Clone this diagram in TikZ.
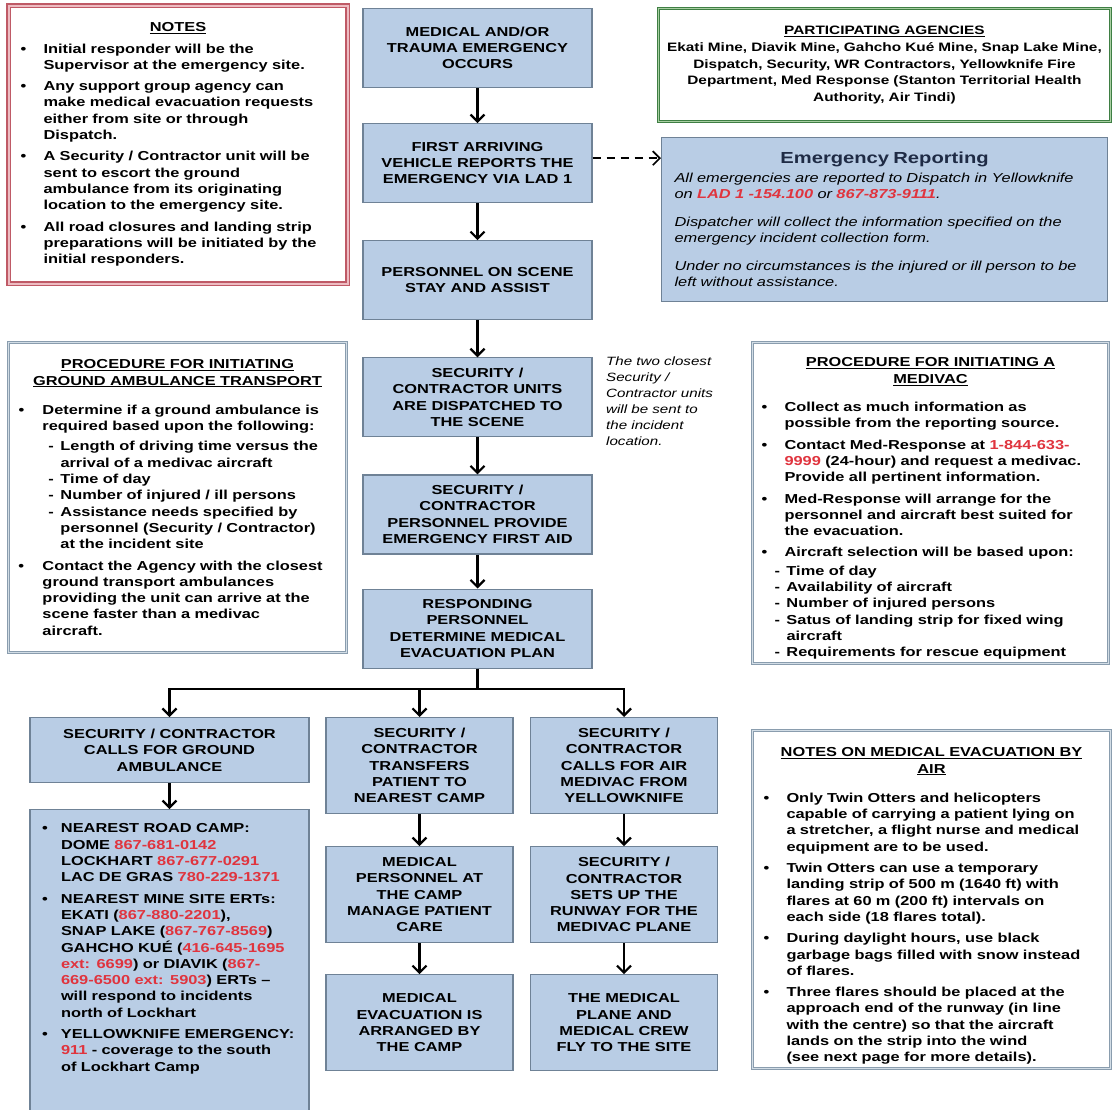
\documentclass[tikz,border=0pt]{standalone}
\usepackage{fontspec}
\setmainfont[FakeStretch=1.26]{Liberation Sans}
\usepackage{xcolor}
\usetikzlibrary{arrows.meta, positioning}

\definecolor{boxfill}{HTML}{B9CDE5}
\definecolor{boxline}{HTML}{6F8296}
\definecolor{notered}{HTML}{BF5A66}
\definecolor{notepink}{HTML}{EDBCC2}
\definecolor{agencygreen}{HTML}{3F7F44}
\definecolor{agencylight}{HTML}{A9CFA2}
\definecolor{panelgray}{HTML}{8A9DAE}
\definecolor{panellight}{HTML}{D2DDE6}
\definecolor{phone}{HTML}{E0343E}
\definecolor{titlenavy}{HTML}{1F2B45}

\newcommand{\flowfont}{\bfseries\fontsize{13}{16.3}\selectfont}
\newcommand{\agencyfont}{\bfseries\fontsize{12.2}{16.5}\selectfont}
\newcommand{\reportfont}{\mdseries\itshape\fontsize{13}{16}\selectfont}
\newcommand{\sidefont}{\mdseries\itshape\fontsize{12}{16}\selectfont}
\newcommand{\ph}[1]{\textcolor{phone}{#1}}
\newcommand{\heading}[1]{{\centering\underline{#1}\par}}
\newcommand{\pitem}[2][23pt]{\par\vspace{5pt}\noindent\hangindent=#1\hangafter=1\makebox[#1][l]{\textbullet}#2\par}
\newcommand{\psub}[2][23pt]{\par\noindent\hangindent=\dimexpr#1+15pt\relax\hangafter=1\hspace*{\dimexpr#1+3pt\relax}\makebox[12pt][l]{-}#2\par}

\begin{document}
\begin{tikzpicture}[x=1pt, y=-1pt, node distance=36pt]
        \tikzstyle{flow} = [rectangle, draw=boxline, line width=1.1pt, fill=boxfill, align=center, font=\flowfont, inner sep=2pt]
        \tikzstyle{mainbox} = [flow, minimum width=229pt, minimum height=79pt]
        \tikzstyle{sidebox} = [flow, minimum width=187pt, minimum height=96pt]
        \tikzstyle{panel} = [rectangle, anchor=north west, align=left, font=\flowfont, inner ysep=0pt]
        \tikzstyle{graypanel} = [panel, draw=panelgray, line width=1pt, double=panellight, double distance=1.6pt]
        \tikzstyle{line} = [draw, line width=2.2pt, -{Straight Barb[length=7pt,width=14pt]}]
        \tikzstyle{trunk} = [draw, line width=2.2pt]

        \useasboundingbox (0,0) rectangle (1112,1110);
        \clip (0,0) rectangle (1112,1110);
        \fill[white] (0,0) rectangle (1112,1110);

        % main column
        \node [mainbox, anchor=north] (occurs) at (477.5,8) {MEDICAL AND/OR\\TRAUMA EMERGENCY\\OCCURS};
        \node [mainbox, below=35pt of occurs] (vehicle) {FIRST ARRIVING\\VEHICLE REPORTS THE\\EMERGENCY VIA LAD 1};
        \node [mainbox, below=37pt of vehicle] (onscene) {PERSONNEL ON SCENE\\STAY AND ASSIST};
        \node [mainbox, below=37pt of onscene] (dispatch) {SECURITY /\\CONTRACTOR UNITS\\ARE DISPATCHED TO\\THE SCENE};
        \node [mainbox, below=37pt of dispatch] (firstaid) {SECURITY /\\CONTRACTOR\\PERSONNEL PROVIDE\\EMERGENCY FIRST AID};
        \node [mainbox, below=34pt of firstaid] (plan) {RESPONDING\\PERSONNEL\\DETERMINE MEDICAL\\EVACUATION PLAN};

        \node [anchor=north west, font=\sidefont, align=left, inner sep=0pt] (twonote) at (606,357) {The two closest\\Security /\\Contractor units\\will be sent to\\the incident\\location.};

        % three branches
        \node [flow, minimum width=279pt, minimum height=65pt, anchor=north] (ground) at (169.5,717) {SECURITY / CONTRACTOR\\CALLS FOR GROUND\\AMBULANCE};
        \node [flow, minimum width=279pt, minimum height=317pt, text width=255pt, align=left, below=26pt of ground] (roadcamps) {%
            \pitem[19pt]{NEAREST ROAD CAMP:\newline DOME \ph{867-681-0142}\newline LOCKHART \ph{867-677-0291}\newline LAC DE GRAS \ph{780-229-1371}}%
            \pitem[19pt]{NEAREST MINE SITE ERTs:\newline EKATI (\ph{867-880-2201}),\newline SNAP LAKE (\ph{867-767-8569})\newline GAHCHO KUÉ (\ph{416-645-1695}\newline \ph{ext: 6699}) or DIAVIK (\ph{867-}\newline \ph{669-6500 ext: 5903}) ERTs --\newline will respond to incidents\newline north of Lockhart}%
            \pitem[19pt]{YELLOWKNIFE EMERGENCY:\newline \ph{911} - coverage to the south\newline of Lockhart Camp}%
            \noindent\rule{0pt}{50pt}\par};

        \node [sidebox, anchor=north] (transfer) at (419.5,717) {SECURITY /\\CONTRACTOR\\TRANSFERS\\PATIENT TO\\NEAREST CAMP};
        \node [sidebox, below=32pt of transfer] (campcare) {MEDICAL\\PERSONNEL AT\\THE CAMP\\MANAGE PATIENT\\CARE};
        \node [sidebox, below=31pt of campcare] (camparrange) {MEDICAL\\EVACUATION IS\\ARRANGED BY\\THE CAMP};

        \node [sidebox, anchor=north] (airvac) at (624,717) {SECURITY /\\CONTRACTOR\\CALLS FOR AIR\\MEDIVAC FROM\\YELLOWKNIFE};
        \node [sidebox, below=32pt of airvac] (runway) {SECURITY /\\CONTRACTOR\\SETS UP THE\\RUNWAY FOR THE\\MEDIVAC PLANE};
        \node [sidebox, below=31pt of runway] (flyin) {THE MEDICAL\\PLANE AND\\MEDICAL CREW\\FLY TO THE SITE};

        % side panels
        \node [panel, draw=notered, line width=1.1pt, double=notepink, double distance=2pt, minimum width=339pt, minimum height=278pt, inner xsep=12pt, text width=315pt] (notes) at (8,5) {%
            \heading{NOTES}%
            \pitem{Initial responder will be the\newline Supervisor at the emergency site.}%
            \pitem{Any support group agency can\newline make medical evacuation requests\newline either from site or through\newline Dispatch.}%
            \pitem{A Security / Contractor unit will be\newline sent to escort the ground\newline ambulance from its originating\newline location to the emergency site.}%
            \pitem{All road closures and landing strip\newline preparations will be initiated by the\newline initial responders.}};

        \node [panel, draw=agencygreen, line width=0.9pt, double=agencylight, double distance=0.9pt, minimum width=452pt, minimum height=113pt, inner xsep=2pt, text width=448pt, align=center, font=\agencyfont] (agencies) at (658,8) {%
            \underline{PARTICIPATING AGENCIES}\\[1pt]
            Ekati Mine, Diavik Mine, Gahcho Kué Mine, Snap Lake Mine,\\Dispatch, Security, WR Contractors, Yellowknife Fire\\Department, Med Response (Stanton Territorial Health\\Authority, Air Tindi)};

        \node [panel, fill=boxfill, draw=boxline, line width=1.1pt, minimum width=446pt, minimum height=164pt, inner xsep=13pt, text width=420pt, font=\reportfont] (report) at (661,137) {%
            {\centering\upshape\bfseries\fontsize{16}{18}\selectfont\textcolor{titlenavy}{Emergency Reporting}\par}\vspace{3pt}%
            All emergencies are reported to Dispatch in Yellowknife\\on \ph{\textbf{LAD 1 -154.100}} or \ph{\textbf{867-873-9111}}.\par\vspace{12pt}%
            Dispatcher will collect the information specified on the\\emergency incident collection form.\par\vspace{12pt}%
            Under no circumstances is the injured or ill person to be\\left without assistance.};

        \node [graypanel, minimum width=338pt, minimum height=310pt, inner xsep=10pt, text width=318pt] (groundproc) at (8,342) {%
            \heading{PROCEDURE FOR INITIATING}\heading{GROUND AMBULANCE TRANSPORT}\vspace{8pt}%
            \pitem[24pt]{Determine if a ground ambulance is\newline required based upon the following:}\vspace{4pt}%
            \psub[27pt]{Length of driving time versus the\newline arrival of a medivac aircraft}%
            \psub[27pt]{Time of day}%
            \psub[27pt]{Number of injured / ill persons}%
            \psub[27pt]{Assistance needs specified by\newline personnel (Security / Contractor)\newline at the incident site}%
            \pitem[24pt]{Contact the Agency with the closest\newline ground transport ambulances\newline providing the unit can arrive at the\newline scene faster than a medivac\newline aircraft.}};

        \node [graypanel, minimum width=356pt, minimum height=321pt, inner xsep=9pt, text width=338pt] (medivac) at (752,342) {%
            \par\vspace*{4pt}\heading{PROCEDURE FOR INITIATING A}\heading{MEDIVAC}\vspace{7pt}%
            \pitem{Collect as much information as\newline possible from the reporting source.}%
            \pitem{Contact Med-Response at \ph{1-844-633-}\newline \ph{9999} (24-hour) and request a medivac.\newline Provide all pertinent information.}%
            \pitem{Med-Response will arrange for the\newline personnel and aircraft best suited for\newline the evacuation.}%
            \pitem{Aircraft selection will be based upon:}\vspace{2pt}%
            \psub[10pt]{Time of day}%
            \psub[10pt]{Availability of aircraft}%
            \psub[10pt]{Number of injured persons}%
            \psub[10pt]{Satus of landing strip for fixed wing\newline aircraft}%
            \psub[10pt]{Requirements for rescue equipment}};

        \node [graypanel, minimum width=358pt, minimum height=338pt, inner xsep=11pt, text width=336pt] (airnotes) at (752,730) {%
            \par\vspace*{6pt}\heading{NOTES ON MEDICAL EVACUATION BY}\heading{AIR}\vspace{8pt}%
            \pitem{Only Twin Otters and helicopters\newline capable of carrying a patient lying on\newline a stretcher, a flight nurse and medical\newline equipment are to be used.}%
            \pitem{Twin Otters can use a temporary\newline landing strip of 500 m (1640 ft) with\newline flares at 60 m (200 ft) intervals on\newline each side (18 flares total).}%
            \pitem{During daylight hours, use black\newline garbage bags filled with snow instead\newline of flares.}%
            \pitem{Three flares should be placed at the\newline approach end of the runway (in line\newline with the centre) so that the aircraft\newline lands on the strip into the wind\newline (see next page for more details).}};

        % connectors
        \path [line] (occurs) -- (vehicle);
        \path [line] (vehicle) -- (onscene);
        \path [line] (onscene) -- (dispatch);
        \path [line] (dispatch) -- (firstaid);
        \path [line] (firstaid) -- (plan);
        \path [line, line width=1.7pt, dash pattern=on 8pt off 6pt] ([yshift=5pt]vehicle.east) -- ([yshift=5pt]vehicle.east -| report.west);

        \path [trunk] (plan.south) -- ++(0,20) coordinate (split);
        \path [line] (split) -| (ground.north);
        \path [line] (split) -| (transfer.north);
        \path [line] (split) -| (airvac.north);

        \path [line] (ground) -- (roadcamps);
        \path [line] (transfer) -- (campcare);
        \path [line] (campcare) -- (camparrange);
        \path [line] (airvac) -- (runway);
        \path [line] (runway) -- (flyin);
    \end{tikzpicture}
\end{document}
